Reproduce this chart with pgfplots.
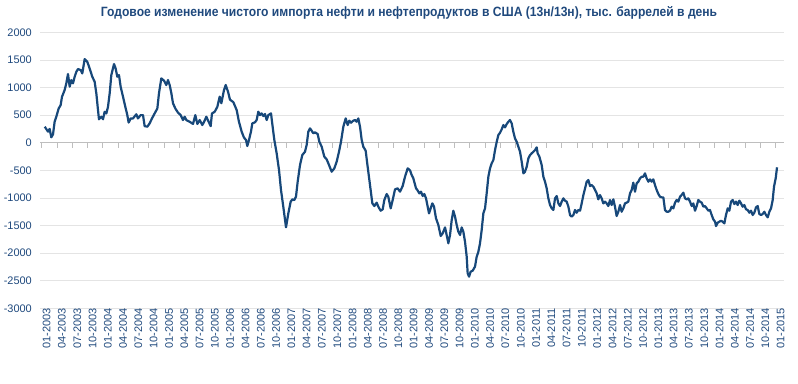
\documentclass[border=0pt]{standalone}
\usepackage{fontspec}
\setmainfont{Liberation Sans}
\usepackage{pgfplots}
\pgfplotsset{compat=1.18}
\definecolor{linec}{HTML}{17487A}
\definecolor{txtc}{HTML}{1F497D}
\definecolor{gridc}{HTML}{E4E4E4}
\definecolor{zeroc}{HTML}{BEBEBE}
\begin{document}
\begin{tikzpicture}
\useasboundingbox (0bp,0bp) rectangle (798bp,-384bp);
\node[anchor=base, text=txtc, font=\bfseries\fontsize{13.5}{16}\selectfont, inner sep=0pt] at (409bp,-16.7bp) {\scalebox{0.9}[1]{Годовое изменение чистого импорта нефти и нефтепродуктов в США (13н/13н), тыс. баррелей в день}};
\begin{axis}[
 at={(40bp,-308.3bp)}, anchor=south west,
 scale only axis, width=744bp, height=276bp,
 xmin=-0.33, xmax=145.63, ymin=-3000, ymax=2000,
 ytick={-3000,-2500,...,2000},
 xtick={0,3,...,144},
 xticklabels={01-2003,04-2003,07-2003,10-2003,01-2004,04-2004,07-2004,10-2004,01-2005,04-2005,07-2005,10-2005,01-2006,04-2006,07-2006,10-2006,01-2007,04-2007,07-2007,10-2007,01-2008,04-2008,07-2008,10-2008,01-2009,04-2009,07-2009,10-2009,01-2010,04-2010,07-2010,10-2010,01-2011,04-2011,07-2011,10-2011,01-2012,04-2012,07-2012,10-2012,01-2013,04-2013,07-2013,10-2013,01-2014,04-2014,07-2014,10-2014,01-2015},
 ymajorgrids, grid style={gridc, line width=0.8bp},
 axis line style={draw=none},
 major tick length=0pt,
 tick label style={font=\fontsize{11}{13}\selectfont, text=txtc},
 yticklabel style={anchor=east, inner sep=0pt, xshift=-8bp},
 xticklabel style={rotate=90, anchor=east, inner sep=0pt, yshift=-5bp},
 /pgf/number format/assume math mode=true,
 /pgf/number format/1000 sep={},
 scaled y ticks=false,
]
\draw[zeroc, line width=0.9bp] (axis cs:-0.33,0) -- (axis cs:145.63,0);
\pgfplotsinvokeforeach{0,3,...,144}{\draw[zeroc, line width=0.8bp] (axis cs:#1,0) -- ([yshift=-5bp]axis cs:#1,0);}
\addplot[linec, line width=2.2bp, line join=round, no marks] table {
m v
0.6 290
1.24 200
1.56 250
1.89 98
2.22 150
2.54 380
2.87 470
3.33 620
3.72 680
3.98 830
4.51 955
4.83 1075
5.16 1245
5.49 1015
5.81 1135
6.14 1075
6.47 1195
6.80 1285
7.12 1335
7.65 1315
7.97 1255
8.43 1515
8.95 1465
9.41 1345
9.93 1195
10.39 1105
10.72 895
11.05 590
11.24 425
11.70 470
12.03 425
12.35 560
12.68 530
13.01 650
13.34 895
13.66 1225
14.19 1425
14.51 1345
14.84 1195
15.17 1225
15.49 1015
15.95 835
16.41 650
16.80 500
17.06 365
17.46 440
17.91 440
18.57 515
18.89 440
19.42 500
19.88 500
20.20 300
20.73 290
21.18 350
21.64 440
22.16 530
22.69 620
23.01 895
23.47 1165
24.00 1125
24.45 1045
24.78 1135
25.11 1045
25.44 895
25.76 715
26.22 620
26.74 545
27.27 500
27.72 410
28.05 470
28.38 410
29.03 380
29.69 340
30.14 500
30.54 340
31.00 410
31.52 320
31.97 400
32.30 470
32.76 380
33.15 300
33.41 530
33.94 560
34.46 650
34.92 835
35.25 715
35.77 955
36.10 1045
36.55 925
36.94 780
37.6 735
38.25 592
38.7 381
39.23 200
39.69 92
40.08 50
40.34 -60
40.67 50
41.06 200
41.32 350
41.85 370
42.17 411
42.5 562
42.83 500
43.15 531
43.48 483
43.81 519
44.14 411
44.46 500
44.99 531
45.31 290
45.64 50
46.1 -193
46.56 -495
46.95 -857
47.4 -1159
47.93 -1533
48.39 -1279
48.84 -1069
49.17 -1027
49.56 -1039
49.89 -978
50.22 -707
50.68 -404
51.13 -223
51.66 -163
51.98 -42
52.31 200
52.64 260
52.96 218
53.29 170
53.62 188
54.14 157
54.47 18
54.93 -72
55.45 -253
55.91 -302
56.37 -404
56.89 -525
57.41 -465
57.87 -344
58.33 -163
58.72 18
59.18 290
59.64 441
60.03 320
60.36 399
60.68 362
61.14 399
61.47 411
61.79 380
62.12 441
62.45 290
62.78 50
63.1 -72
63.56 -145
63.95 -434
64.41 -766
64.87 -1098
65.26 -1147
65.72 -1086
66.04 -1159
66.5 -1232
66.9 -1208
67.22 -1038
67.68 -930
68.0 -978
68.47 -1190
68.86 -1038
69.32 -845
69.84 -827
70.3 -887
70.82 -785
71.28 -616
71.8 -465
72.26 -500
72.59 -586
72.91 -646
73.44 -827
73.7 -857
74.09 -918
74.42 -887
74.75 -966
75.07 -930
75.4 -1008
75.66 -1129
75.99 -1280
76.31 -1189
76.64 -1099
76.97 -1159
77.36 -1370
77.82 -1491
78.28 -1690
78.67 -1642
79.13 -1534
79.45 -1672
79.78 -1823
80.11 -1672
80.44 -1400
80.76 -1232
81.09 -1340
81.42 -1491
81.74 -1612
82.07 -1672
82.4 -1534
82.72 -1612
83.05 -1793
83.38 -2065
83.57 -2366
83.84 -2427
84.16 -2336
84.56 -2318
85.01 -2245
85.34 -2065
85.67 -1975
85.99 -1823
86.32 -1582
86.65 -1280
86.98 -1189
87.3 -918
87.63 -616
87.96 -465
88.28 -374
88.61 -314
88.94 -133
89.26 12
89.59 139
89.92 181
90.25 242
90.57 320
90.9 278
91.23 338
91.55 380
91.88 411
92.21 350
92.53 199
92.86 78
93.19 18
93.52 -72
93.84 -163
94.17 -344
94.5 -555
94.82 -525
95.15 -435
95.48 -284
95.81 -223
96.13 -193
96.46 -163
96.79 -133
97.11 -85
97.3 -193
97.64 -253
98.09 -404
98.42 -616
98.75 -707
99.07 -827
99.4 -1008
99.73 -1129
100.05 -1189
100.38 -1219
100.71 -1008
101.04 -966
101.36 -1099
101.69 -1147
102.02 -1068
102.34 -1008
102.67 -1050
103.0 -1068
103.33 -1159
103.65 -1310
103.98 -1340
104.31 -1310
104.63 -1219
104.96 -1268
105.29 -1219
105.62 -1232
105.94 -1099
106.27 -948
106.6 -827
106.92 -707
107.25 -676
107.58 -785
107.9 -767
108.23 -797
108.56 -857
108.88 -917
109.2 -1026
109.53 -948
109.86 -1008
110.19 -1099
110.51 -1068
110.84 -1099
111.17 -1147
111.49 -1038
111.82 -1129
112.15 -1026
112.47 -1159
112.8 -1328
113.13 -1250
113.46 -1129
113.78 -1250
114.11 -1189
114.44 -1099
114.76 -1086
115.09 -1068
115.42 -917
115.74 -857
116.07 -724
116.4 -887
116.73 -736
117.05 -706
117.38 -646
117.71 -616
118.03 -616
118.36 -555
118.69 -646
119.01 -706
119.34 -664
119.67 -706
119.99 -664
120.32 -767
120.65 -857
120.98 -929
121.3 -978
121.63 -990
121.96 -990
122.28 -1219
122.61 -1250
122.94 -1250
123.27 -1232
123.59 -1159
123.92 -1189
124.25 -1086
124.57 -1038
124.9 -1068
125.23 -978
125.55 -948
125.88 -905
126.21 -1008
126.53 -1026
126.86 -1008
127.19 -1068
127.52 -1147
127.84 -1099
128.17 -1232
128.5 -1147
128.82 -1038
129.15 -1068
129.48 -1086
129.81 -1159
130.13 -1147
130.46 -1189
130.79 -1232
131.11 -1219
131.44 -1310
131.77 -1389
132.1 -1431
132.29 -1510
132.62 -1449
132.94 -1431
133.27 -1413
133.6 -1431
133.93 -1461
134.25 -1310
134.58 -1189
134.91 -1232
135.23 -1068
135.56 -1038
135.89 -1111
136.22 -1068
136.54 -1129
136.87 -1050
137.2 -1099
137.52 -1159
137.85 -1129
138.18 -1207
138.5 -1219
138.83 -1268
139.16 -1232
139.49 -1310
139.81 -1268
140.14 -1171
140.47 -1147
140.79 -1292
141.12 -1310
141.45 -1292
141.77 -1250
142.1 -1310
142.43 -1352
142.76 -1250
143.08 -1189
143.41 -1038
143.67 -797
144.0 -646
144.26 -446
};
\end{axis}
\end{tikzpicture}
\end{document}
